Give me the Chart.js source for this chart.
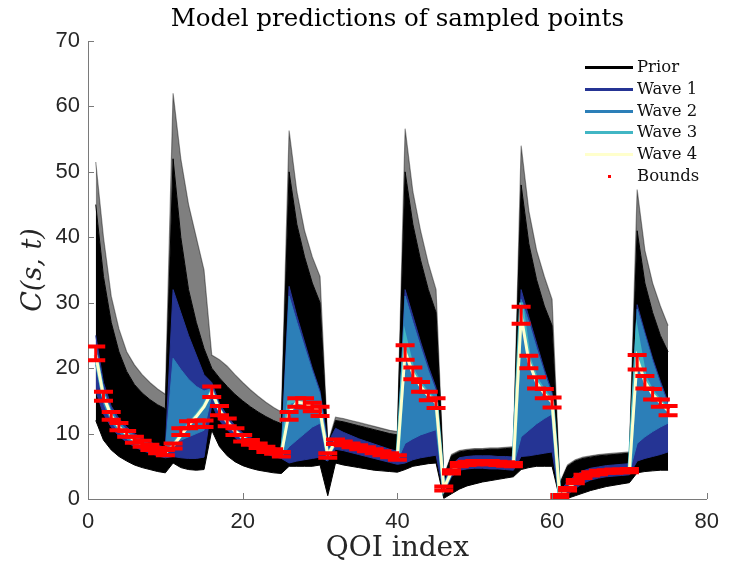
<!DOCTYPE html>
<html>
<head>
<meta charset="utf-8">
<script src="https://cdn.jsdelivr.net/npm/chart.js@4.4.1/dist/chart.umd.min.js"></script>
<style>
  html, body { margin: 0; padding: 0; background: #fff; }
  #wrap { position: relative; width: 729px; height: 569px; }
  #legend { position: absolute; left: 585px; top: 56px; font-family: "DejaVu Serif", serif; font-size: 16.5px; color: #111; }
  #legend .row { height: 21.8px; line-height: 21.8px; white-space: nowrap; }
  #legend .sw { display: inline-block; width: 48px; height: 3px; vertical-align: middle; margin-right: 4px; }
  #legend .dot { display: inline-block; width: 48px; height: 3px; vertical-align: middle; margin-right: 4px; position: relative; }
  #legend .dot::after { content: ""; position: absolute; left: 23px; top: 0; width: 3px; height: 3px; background: #f00; }
</style>
</head>
<body>
<div id="wrap">
  <canvas id="chart" width="729" height="569"></canvas>
  <div id="legend">
    <div class="row"><span class="sw" style="background:#000"></span>Prior</div>
    <div class="row"><span class="sw" style="background:#253494"></span>Wave 1</div>
    <div class="row"><span class="sw" style="background:#2c7fb8"></span>Wave 2</div>
    <div class="row"><span class="sw" style="background:#41b6c4"></span>Wave 3</div>
    <div class="row"><span class="sw" style="background:#ffffcc"></span>Wave 4</div>
    <div class="row"><span class="dot"></span>Bounds</div>
  </div>
</div>
<script>
"use strict";

// QOI index 1..75 (groups of 10 decay points + 5 spike points)
const qoi = Array.from({ length: 75 }, (_, i) => i + 1);

// Prior ensemble envelope (top of faint lines, top of dense black, bottom)
const priorMax = [
  51.5, 40, 31, 26, 22.5, 20.5, 19, 17.8, 16.8, 16,
  62, 52, 45, 40, 35,
  22, 21.3, 20.3, 19, 17.8, 16.7, 15.7, 14.8, 14, 13.3,
  56.3, 47, 41, 37, 34,
  8.5, 12.5, 12.3, 12.0, 11.7, 11.4, 11.1, 10.8, 10.5, 10.3,
  56.6, 47, 41, 36, 32,
  3.5, 6.8, 7.4, 7.6, 7.7, 7.7, 7.8, 7.8, 7.9, 8.0,
  54, 44, 38, 34, 30.5,
  2.5, 5.2, 6.0, 6.4, 6.6, 6.8, 6.9, 7.0, 7.1, 7.2,
  47.3, 38, 33, 29.5, 26.5
];
const priorMid = [
  45, 34, 27, 22.5, 19.5, 17.5, 16.2, 15.2, 14.4, 13.8,
  52, 40, 32, 27, 23,
  20, 18.5, 17.2, 16, 15, 14.1, 13.3, 12.6, 12.0, 11.5,
  50, 42, 37, 33, 30,
  8.2, 12.0, 11.8, 11.5, 11.2, 10.9, 10.6, 10.3, 10.0, 9.8,
  50, 42, 36.5, 32, 28.5,
  3.3, 6.6, 7.2, 7.4, 7.5, 7.5, 7.6, 7.6, 7.7, 7.8,
  48, 39, 33.5, 29.5, 26.5,
  2.3, 5.0, 5.8, 6.2, 6.4, 6.6, 6.7, 6.8, 6.9, 7.0,
  41, 33, 28.5, 25, 22.5
];
const priorMin = [
  12, 9, 7.5, 6.5, 5.8, 5.2, 4.8, 4.5, 4.2, 4.0,
  5.5, 4.8, 4.5, 4.4, 4.5,
  10.5, 8, 6.6, 5.7, 5.1, 4.7, 4.4, 4.2, 4.0, 3.9,
  5, 5, 5, 5, 5.2,
  0.5, 5.5, 5.2, 5.0, 4.8, 4.6, 4.4, 4.3, 4.2, 4.1,
  4.5, 5, 5.2, 5.4, 5.5,
  0.1, 0.8, 1.5, 2.0, 2.3, 2.6, 2.8, 3.0, 3.2, 3.4,
  4.5, 4.8, 5, 5, 5,
  0, 0.1, 0.5, 0.9, 1.3, 1.6, 1.9, 2.1, 2.3, 2.5,
  4, 4.2, 4.3, 4.4, 4.4
];

// Wave 1 envelope
const wave1Hi = [
  25, 17.8, 14.2, 12.3, 11.0, 10.0, 9.3, 8.7, 8.2, 7.9,
  32, 28.5, 25, 22, 19,
  17.8, 14.6, 12.7, 11.2, 10.1, 9.4, 8.8, 8.3, 7.9, 7.6,
  32.5, 28, 24, 20, 16.5,
  8.5, 10.8, 10.2, 9.7, 9.2, 8.8, 8.4, 8.0, 7.6, 7.3,
  32, 28, 24, 20.3, 17,
  2.5, 5.2, 6.3, 6.5, 6.6, 6.6, 6.6, 6.5, 6.5, 6.4,
  32, 27.8, 23.8, 19.8, 16.3,
  1.2, 2.6, 3.6, 4.3, 4.7, 4.9, 5.1, 5.2, 5.3, 5.4,
  29.7, 25.5, 21.5, 18, 14.8
];
const wave1Lo = [
  16.5, 13.0, 11.0, 9.6, 8.7, 8.0, 7.4, 7.0, 6.6, 6.3,
  6.5, 6.3, 6.2, 6.2, 6.4,
  14.5, 12.0, 10.6, 9.4, 8.5, 7.9, 7.4, 6.9, 6.5, 6.2,
  5.5, 5.8, 6.0, 6.2, 6.4,
  5.8, 7.6, 7.4, 7.1, 6.8, 6.5, 6.2, 5.9, 5.6, 5.3,
  5.5, 6.0, 6.3, 6.5, 6.7,
  0.9, 3.4, 4.4, 4.6, 4.7, 4.7, 4.6, 4.6, 4.5, 4.4,
  6.5, 6.6, 6.8, 7.0, 7.2,
  0, 0.7, 1.6, 2.4, 2.9, 3.2, 3.4, 3.5, 3.6, 3.7,
  5.8, 6.2, 6.5, 6.8, 7.2
];

// Wave 2 envelope
const wave2Hi = [
  23.5, 16.8, 13.6, 11.8, 10.6, 9.7, 9.0, 8.4, 7.9, 7.6,
  21.5, 19.8, 18.3, 17.2, 16.5,
  16.9, 14.0, 12.1, 10.8, 9.8, 9.0, 8.5, 8.0, 7.6, 7.2,
  31, 27, 23.2, 19.5, 16.0,
  7.2, 9.3, 9.0, 8.7, 8.4, 8.1, 7.8, 7.5, 7.2, 6.9,
  31, 27, 23.2, 19.6, 16.4,
  1.9, 4.5, 5.6, 5.8, 5.9, 5.9, 5.9, 5.8, 5.7, 5.6,
  30.5, 27, 23, 19.2, 15.8,
  0.6, 1.8, 2.9, 3.7, 4.1, 4.3, 4.4, 4.5, 4.6, 4.6,
  29, 25, 21, 17.5, 14.3
];
const wave2Lo = [
  20.5, 14.6, 11.8, 10.2, 9.2, 8.4, 7.8, 7.4, 6.9, 6.6,
  8.5, 9, 9.5, 10, 10.5,
  15.9, 13.2, 11.4, 10.0, 9.0, 8.3, 7.8, 7.3, 6.9, 6.5,
  8, 9, 10, 11, 11.6,
  6.2, 8.3, 8.0, 7.7, 7.4, 7.1, 6.8, 6.5, 6.2, 5.9,
  8.5, 9.2, 9.8, 10.2, 10.6,
  1.3, 3.9, 5.0, 5.2, 5.3, 5.3, 5.3, 5.2, 5.1, 5.0,
  9.5, 10.5, 11.5, 12.3, 13,
  0.1, 1.2, 2.4, 3.2, 3.6, 3.8, 4.0, 4.0, 4.1, 4.1,
  8.5, 9.5, 10.3, 11, 11.6
];

// Wave 3 and wave 4 runs (narrow)
const wave3 = [
  22, 15.7, 12.7, 11.0, 9.9, 9.0, 8.4, 7.9, 7.4, 7.1,
  8.2, 9.8, 11.3, 12.7, 14.2,
  16.5, 13.6, 11.8, 10.4, 9.4, 8.7, 8.2, 7.7, 7.3, 6.9,
  14.8, 15.2, 14.8, 14.2, 13.5,
  6.7, 8.8, 8.5, 8.2, 7.9, 7.6, 7.3, 7.0, 6.7, 6.4,
  24.5, 19.6, 17.5, 16.0, 14.9,
  1.6, 4.2, 5.3, 5.5, 5.55, 5.55, 5.55, 5.45, 5.35, 5.25,
  30, 21.5, 18.2, 16.4, 15.0,
  0.3, 1.5, 2.65, 3.45, 3.85, 4.05, 4.2, 4.25, 4.3, 4.35,
  25, 18.5, 16.3, 14.9, 13.6
];
const wave4 = [
  22, 15.7, 12.7, 11.0, 9.9, 9.0, 8.4, 7.9, 7.4, 7.1,
  8.1, 9.7, 11.2, 12.6, 14.1,
  16.4, 13.6, 11.8, 10.4, 9.4, 8.7, 8.2, 7.7, 7.3, 6.9,
  13.2, 14.8, 14.6, 14.1, 13.4,
  6.7, 8.8, 8.5, 8.2, 7.9, 7.6, 7.3, 7.0, 6.7, 6.4,
  22.5, 19.2, 17.2, 15.8, 14.7,
  1.6, 4.2, 5.3, 5.5, 5.55, 5.55, 5.55, 5.45, 5.35, 5.25,
  28, 21, 17.8, 16.1, 14.8,
  0.3, 1.5, 2.65, 3.45, 3.85, 4.05, 4.2, 4.25, 4.3, 4.35,
  21.5, 17.9, 16.0, 14.7, 13.5
];

// Observation bounds
const boundLo = [
  21.2, 15.0, 12.1, 10.5, 9.5, 8.6, 8.0, 7.5, 7.0, 6.7,
  7.7, 9.8, 10.8, 11.0, 11.0,
  15.6, 12.8, 11.1, 9.8, 8.8, 8.3, 7.8, 7.2, 6.9, 6.5,
  12.1, 14.1, 14.0, 13.4, 12.7,
  6.3, 8.4, 8.2, 7.9, 7.6, 7.3, 7.0, 6.7, 6.4, 6.0,
  21.3, 18.3, 16.4, 15.1, 13.9,
  1.3, 3.9, 5.0, 5.2, 5.3, 5.3, 5.3, 5.2, 5.1, 5.0,
  26.8, 20.0, 16.9, 15.4, 14.0,
  0.0, 1.3, 2.4, 3.2, 3.6, 3.8, 4.0, 4.0, 4.1, 4.1,
  19.8, 16.9, 15.2, 14.1, 12.8
];
const boundHi = [
  23.3, 16.4, 13.3, 11.6, 10.4, 9.5, 8.9, 8.3, 7.8, 7.5,
  8.5, 10.8, 11.9, 12.0, 12.0,
  17.2, 14.2, 12.3, 10.8, 9.8, 9.0, 8.5, 8.0, 7.6, 7.2,
  13.3, 15.4, 15.4, 14.7, 14.1,
  7.0, 9.1, 8.8, 8.5, 8.2, 7.9, 7.6, 7.3, 7.0, 6.7,
  23.5, 20.1, 17.9, 16.4, 15.4,
  1.9, 4.4, 5.5, 5.7, 5.8, 5.8, 5.8, 5.7, 5.6, 5.5,
  29.4, 21.9, 18.6, 16.8, 15.5,
  0.6, 1.7, 2.9, 3.7, 4.1, 4.3, 4.4, 4.5, 4.5, 4.6,
  22.0, 18.8, 16.8, 15.2, 14.2
];

const xTicks = [0, 20, 40, 60, 80];
const yTicks = [0, 10, 20, 30, 40, 50, 60, 70];

// helpers
const pts = (arr) => qoi.map((x, i) => ({ x: x, y: arr[i] }));
const band = (arr, color, order, fill, width) => ({
  data: pts(arr),
  borderColor: color,
  backgroundColor: color,
  borderWidth: width === undefined ? 1 : width,
  pointRadius: 0,
  fill: fill,
  order: order
});

const stemData = qoi.flatMap((x, i) => [
  { x: x, y: boundLo[i] },
  { x: x, y: boundHi[i] },
  { x: x, y: null }
]);

// inward tick marks like the original axes
const inwardTicks = {
  id: "inwardTicks",
  afterDatasetsDraw(chart) {
    const { ctx, chartArea: a, scales } = chart;
    ctx.save();
    ctx.strokeStyle = "#7a7a7a";
    ctx.lineWidth = 1;
    ctx.beginPath();
    xTicks.forEach(v => {
      const px = Math.round(scales.x.getPixelForValue(v)) + 0.5;
      ctx.moveTo(px, a.bottom);
      ctx.lineTo(px, a.bottom - 6);
    });
    yTicks.forEach(v => {
      const py = Math.round(scales.y.getPixelForValue(v)) + 0.5;
      ctx.moveTo(a.left, py);
      ctx.lineTo(a.left + 6, py);
    });
    ctx.stroke();
    ctx.restore();
  }
};

const canvas = document.getElementById("chart");

new Chart(canvas, {
  type: "line",
  data: {
    datasets: [
      // 0,1 bounds caps
      { data: pts(boundHi), showLine: false, pointStyle: "line", pointRadius: 9.5,
        pointBorderWidth: 4, pointBorderColor: "#ff0000", borderColor: "#ff0000", order: 0 },
      { data: pts(boundLo), showLine: false, pointStyle: "line", pointRadius: 9.5,
        pointBorderWidth: 4, pointBorderColor: "#ff0000", borderColor: "#ff0000", order: 0 },
      // 2 bounds stems
      { data: stemData, borderColor: "#ff0000", borderWidth: 3, pointRadius: 0, spanGaps: false, order: 1 },
      // 3 wave 4
      band(wave4, "#ffffcc", 2, false, 3),
      // 4 wave 3
      band(wave3, "#41b6c4", 3, false, 4),
      // 5,6 wave 2
      band(wave2Hi, "#2c7fb8", 4, 6),
      band(wave2Lo, "#2c7fb8", 4, false),
      // 7,8 wave 1
      band(wave1Hi, "#253494", 5, 8),
      band(wave1Lo, "#253494", 5, false),
      // 9,10 prior dense
      band(priorMid, "#000000", 6, 10),
      band(priorMin, "#000000", 6, false),
      // 11 prior faint top lines
      { data: pts(priorMax), borderColor: "rgba(0,0,0,0.4)", backgroundColor: "rgba(0,0,0,0.5)",
        borderWidth: 1.2, pointRadius: 0, fill: 9, order: 7 }
    ]
  },
  options: {
    responsive: false,
    animation: false,
    events: [],
    elements: { line: { tension: 0 } },
    layout: { padding: { left: 0, right: 22, top: 0, bottom: 0 } },
    plugins: {
      legend: { display: false },
      tooltip: { enabled: false },
      title: {
        display: true,
        fullSize: false,
        text: "Model predictions of sampled points",
        color: "#000",
        font: { family: "DejaVu Serif", size: 24.5, weight: "normal", lineHeight: 1.2 },
        padding: { top: 5, bottom: 6.6 }
      }
    },
    scales: {
      x: {
        type: "linear",
        min: 0, max: 80,
        afterBuildTicks: (s) => { s.ticks = xTicks.map(v => ({ value: v })); },
        afterFit: (s) => { s.height = 70; },
        grid: { display: false, drawTicks: false },
        border: { display: true, color: "#7a7a7a", width: 1 },
        ticks: { color: "#262626", padding: 10, font: { family: "Liberation Sans", size: 22 } },
        title: { display: true, text: "QOI index", color: "#262626",
          font: { family: "DejaVu Serif", size: 28, lineHeight: 1.2 }, padding: { top: 0, bottom: 3 } }
      },
      y: {
        min: 0, max: 70,
        afterBuildTicks: (s) => { s.ticks = yTicks.map(v => ({ value: v })); },
        afterFit: (s) => { s.width = 88; },
        grid: { display: false, drawTicks: false },
        border: { display: true, color: "#7a7a7a", width: 1 },
        ticks: { color: "#262626", padding: 8, font: { family: "Liberation Sans", size: 22 } },
        title: { display: true, text: "C(s, t)", color: "#262626",
          font: { family: "DejaVu Serif", size: 27, style: "italic", lineHeight: 1.2 }, padding: { top: 18, bottom: 0 } }
      }
    }
  },
  plugins: [inwardTicks]
});
</script>
</body>
</html>
